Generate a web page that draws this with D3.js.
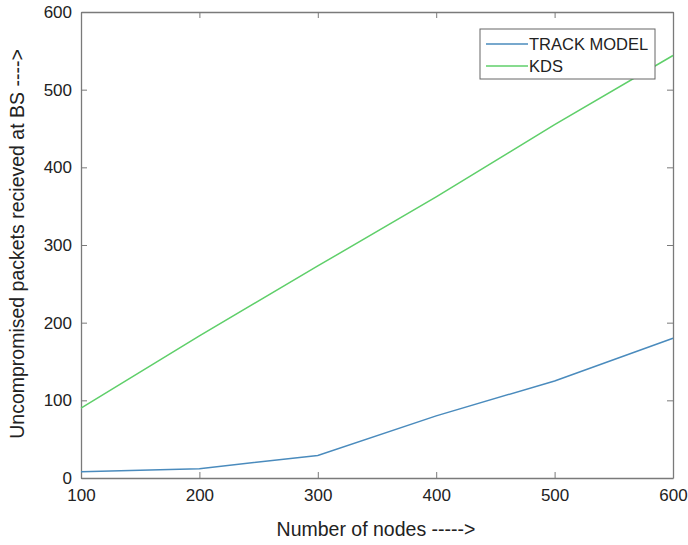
<!DOCTYPE html>
<html>
<head>
<meta charset="utf-8">
<script src="https://cdn.jsdelivr.net/npm/d3@7"></script>
<style>
  body { margin: 0; background: #fff; }
  svg text { font-family: "Liberation Sans", Arial, sans-serif; fill: #222; }
</style>
</head>
<body>
<svg id="chart" width="688" height="545"></svg>
<script>
// data
var nodes = [100, 200, 300, 400, 500, 600];
var trackModel = [8, 12, 29, 80, 125, 180];
var kds = [90, 183, 273, 362, 455, 544];
var seriesNames = ['TRACK MODEL', 'KDS'];
var seriesColors = ['#4a8bbd', '#5fcf6a'];
var xTicks = [100, 200, 300, 400, 500, 600];
var yTicks = [0, 100, 200, 300, 400, 500, 600];

var margin = { top: 12, left: 81, right: 15, bottom: 67 };
var width = 688 - margin.left - margin.right;
var height = 545 - margin.top - margin.bottom;

var svg = d3.select('#chart');
var g = svg.append('g')
  .attr('transform', 'translate(' + margin.left + ',' + margin.top + ')');

var x = d3.scaleLinear().domain([100, 600]).range([0, width]);
var y = d3.scaleLinear().domain([0, 600]).range([height, 0]);

// axes (ticks inward, box around)
var axisColor = '#7a7a7a';
function styleAxis(sel, showLabels) {
  sel.select('.domain').attr('stroke', axisColor).attr('stroke-width', 1.3);
  sel.selectAll('.tick line').attr('stroke', axisColor);
  sel.selectAll('.tick text').style('font-size', '17px')
    .attr('opacity', showLabels ? 1 : 0);
}

g.append('g')
  .attr('transform', 'translate(0,' + height + ')')
  .call(d3.axisBottom(x).tickValues(xTicks).tickSizeInner(-6).tickSizeOuter(0).tickPadding(11))
  .call(styleAxis, true);

g.append('g')
  .call(d3.axisLeft(y).tickValues(yTicks).tickSizeInner(-6).tickSizeOuter(0).tickPadding(9))
  .call(styleAxis, true);

g.append('g')
  .call(d3.axisTop(x).tickValues(xTicks).tickSizeInner(-6).tickSizeOuter(0))
  .call(styleAxis, false);

g.append('g')
  .attr('transform', 'translate(' + width + ',0)')
  .call(d3.axisRight(y).tickValues(yTicks).tickSizeInner(-6).tickSizeOuter(0))
  .call(styleAxis, false);

// lines
var line = d3.line()
  .x(function (d, i) { return x(nodes[i]); })
  .y(function (d) { return y(d); });

[trackModel, kds].forEach(function (vals, i) {
  g.append('path')
    .datum(vals)
    .attr('fill', 'none')
    .attr('stroke', seriesColors[i])
    .attr('stroke-width', 1.5)
    .attr('d', line);
});

// legend
var legend = g.append('g').attr('transform', 'translate(' + (480 - margin.left) + ',' + (29 - margin.top) + ')');
legend.append('rect')
  .attr('width', 175).attr('height', 50)
  .attr('fill', '#fff').attr('stroke', '#666').attr('stroke-width', 1);
seriesNames.forEach(function (name, i) {
  var ly = 15 + i * 22;
  legend.append('line')
    .attr('x1', 6).attr('x2', 48).attr('y1', ly).attr('y2', ly)
    .attr('stroke', seriesColors[i]).attr('stroke-width', 1.5);
  legend.append('text')
    .attr('x', 49).attr('y', ly + 6)
    .style('font-size', '16.5px')
    .text(name);
});

// axis titles
svg.append('text')
  .attr('x', 376).attr('y', 536)
  .attr('text-anchor', 'middle')
  .style('font-size', '19.5px')
  .text('Number of nodes ----->');

svg.append('text')
  .attr('transform', 'translate(24,244) rotate(-90)')
  .attr('text-anchor', 'middle')
  .style('font-size', '19.5px')
  .text('Uncompromised packets recieved at BS ---->');
</script>
</body>
</html>
